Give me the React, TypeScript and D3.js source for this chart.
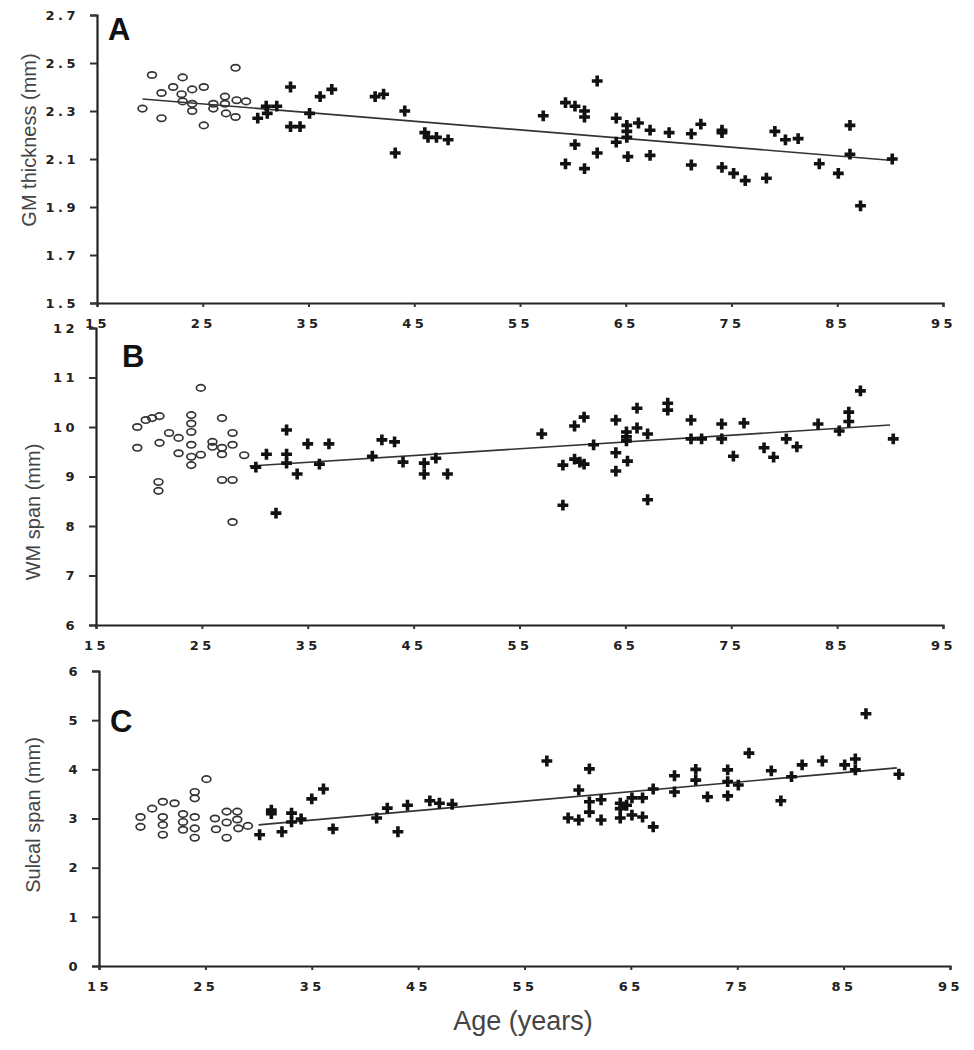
import { useEffect, useRef } from "react";
import * as d3 from "d3";

// age ticks shared by all three panels
const ageTicks = [15, 25, 35, 45, 55, 65, 75, 85, 95];

// A: GM thickness (mm)
const gmTicks = [1.5, 1.7, 1.9, 2.1, 2.3, 2.5, 2.7];
const gmYoung = [
  [19.3, 2.31], [20.2, 2.45], [21.1, 2.27], [21.1, 2.375], [22.2, 2.4], [23.1, 2.44],
  [23.0, 2.37], [23.1, 2.34], [24.0, 2.39], [24.0, 2.33], [24.0, 2.3], [25.1, 2.4],
  [25.1, 2.24], [26.0, 2.33], [26.0, 2.31], [27.1, 2.36], [27.1, 2.33], [27.2, 2.29],
  [28.1, 2.48], [28.1, 2.275], [28.2, 2.345], [29.1, 2.34],
];
const gmOld = [
  [30.2, 2.27], [31.0, 2.32], [31.1, 2.29], [32.0, 2.32], [33.3, 2.4], [33.3, 2.235],
  [34.2, 2.235], [35.1, 2.29], [36.1, 2.36], [37.2, 2.39], [41.3, 2.36], [42.1, 2.37],
  [43.2, 2.125], [44.1, 2.3], [46.0, 2.21], [46.3, 2.19], [47.1, 2.19], [48.2, 2.18],
  [57.2, 2.28], [59.3, 2.335], [59.3, 2.08], [60.2, 2.32], [60.2, 2.16], [61.1, 2.3],
  [61.1, 2.275], [61.1, 2.06], [62.3, 2.425], [62.3, 2.125], [64.1, 2.27], [64.1, 2.17],
  [65.1, 2.24], [65.1, 2.215], [65.1, 2.19], [65.2, 2.11], [66.2, 2.25], [67.3, 2.22],
  [67.3, 2.115], [69.1, 2.21], [71.2, 2.205], [71.2, 2.075], [72.1, 2.245], [74.1, 2.22],
  [74.1, 2.21], [74.1, 2.065], [75.2, 2.04], [76.3, 2.01], [78.3, 2.02], [79.1, 2.215],
  [80.1, 2.18], [81.3, 2.185], [83.3, 2.08], [85.1, 2.04], [86.2, 2.24], [86.2, 2.12],
  [87.2, 1.905], [90.2, 2.1],
];
const gmFit = [[19.3, 2.35], [90, 2.095]];

// B: WM span (mm)
const wmTicks = [6, 7, 8, 9, 10, 11, 12];
const wmYoung = [
  [18.9, 9.58], [18.9, 10.0], [19.7, 10.14], [20.3, 10.18], [21.0, 10.22], [21.0, 9.68],
  [20.9, 8.89], [20.9, 8.71], [21.9, 9.88], [22.8, 9.78], [22.8, 9.47], [24.0, 10.24],
  [24.0, 10.07], [24.0, 9.9], [24.0, 9.64], [24.0, 9.4], [24.0, 9.23], [24.9, 10.79],
  [24.9, 9.44], [26.0, 9.7], [26.0, 9.6], [26.9, 10.18], [26.9, 9.58], [26.9, 9.45],
  [26.9, 8.93], [27.9, 9.88], [27.9, 9.64], [27.9, 8.93], [27.9, 8.08], [29.0, 9.43],
];
const wmOld = [
  [30.1, 9.19], [31.1, 9.45], [32.0, 8.26], [33.0, 9.94], [33.0, 9.45], [33.0, 9.27],
  [34.0, 9.05], [35.0, 9.66], [36.1, 9.25], [37.0, 9.66], [41.1, 9.41], [42.0, 9.74],
  [43.2, 9.7], [44.0, 9.29], [46.0, 9.27], [46.0, 9.05], [47.1, 9.37], [48.2, 9.05],
  [57.1, 9.86], [59.1, 9.23], [59.1, 8.42], [60.2, 10.02], [60.2, 9.35], [60.7, 9.29],
  [61.1, 10.2], [61.1, 9.25], [62.0, 9.64], [64.1, 10.14], [64.1, 9.48], [64.1, 9.11],
  [65.1, 9.9], [65.1, 9.8], [65.1, 9.72], [65.2, 9.31], [66.1, 10.38], [66.1, 9.98],
  [67.1, 9.86], [67.1, 8.53], [69.0, 10.48], [69.0, 10.34], [71.2, 10.14], [71.2, 9.76],
  [72.2, 9.76], [74.1, 10.06], [74.1, 9.76], [75.2, 9.41], [76.2, 10.08], [78.1, 9.58],
  [79.0, 9.39], [80.2, 9.76], [81.2, 9.6], [83.2, 10.06], [85.2, 9.92], [86.1, 10.3],
  [86.1, 10.11], [87.2, 10.73], [90.3, 9.76],
];
const wmFit = [[29.5, 9.21], [90, 10.04]];

// C: Sulcal span (mm)
const scTicks = [0, 1, 2, 3, 4, 5, 6];
const scYoung = [
  [18.9, 3.03], [18.9, 2.83], [20.0, 3.2], [21.0, 3.34], [21.0, 3.03], [21.0, 2.87],
  [21.0, 2.67], [22.1, 3.31], [22.9, 3.09], [22.9, 2.93], [22.9, 2.77], [24.0, 3.54],
  [24.0, 3.41], [24.0, 3.03], [24.0, 2.8], [24.0, 2.61], [25.1, 3.8], [25.9, 3.0],
  [26.0, 2.78], [27.0, 3.14], [27.0, 2.92], [27.0, 2.61], [28.0, 3.14], [28.0, 2.98],
  [28.1, 2.8], [29.0, 2.85],
];
const scOld = [
  [30.1, 2.67], [31.2, 3.17], [31.2, 3.1], [32.2, 2.73], [33.1, 3.11], [33.1, 2.93],
  [34.0, 2.99], [35.0, 3.4], [36.1, 3.6], [37.0, 2.79], [41.1, 3.01], [42.1, 3.21],
  [43.1, 2.73], [44.0, 3.27], [46.1, 3.36], [47.0, 3.31], [48.2, 3.29],
  [57.1, 4.17], [59.1, 3.01], [60.1, 2.97], [60.1, 3.58], [61.1, 4.01], [61.1, 3.34],
  [61.1, 3.13], [62.2, 3.38], [62.2, 2.97], [64.0, 3.31], [64.0, 3.2], [64.0, 3.01],
  [64.6, 3.27], [65.1, 3.42], [65.1, 3.07], [66.1, 3.42], [66.1, 3.03], [67.1, 3.6],
  [67.1, 2.83], [69.1, 3.87], [69.1, 3.54], [71.1, 4.0], [71.1, 3.78], [72.2, 3.44],
  [74.1, 3.99], [74.1, 3.75], [74.1, 3.46], [75.1, 3.68], [76.1, 4.33], [78.2, 3.97],
  [79.1, 3.36], [80.1, 3.85], [81.1, 4.09], [83.0, 4.17], [85.1, 4.09], [86.1, 4.21],
  [86.1, 3.99], [87.1, 5.13], [90.2, 3.9],
];
const scFit = [[30, 2.87], [90, 4.03]];

const panels = [
  { letter: "A", title: "GM thickness (mm)", ticks: gmTicks, young: gmYoung, old: gmOld, fit: gmFit,
    fmt: d3.format(".1f"), x0: 97, x1: 943, yTop: 15, yBot: 303, titleX: 29, titleY: 140, letterX: 108, letterY: 40 },
  { letter: "B", title: "WM span (mm)", ticks: wmTicks, young: wmYoung, old: wmOld, fit: wmFit,
    fmt: d3.format("d"), x0: 96, x1: 943, yTop: 328, yBot: 625, titleX: 33, titleY: 512, letterX: 122, letterY: 367 },
  { letter: "C", title: "Sulcal span (mm)", ticks: scTicks, young: scYoung, old: scOld, fit: scFit,
    fmt: d3.format("d"), x0: 99, x1: 950, yTop: 671, yBot: 966, titleX: 33, titleY: 815, letterX: 110, letterY: 732 },
];

const App = () => {
  const ref = useRef<SVGSVGElement>(null);

  useEffect(() => {
    const svg = d3.select(ref.current);
    svg.selectAll("*").remove();

    const tickFont = "'DejaVu Sans', sans-serif";
    const cross = d3.symbol().type(d3.symbolCross).size(65);

    panels.forEach((p) => {
      const x = d3.scaleLinear().domain([15, 95]).range([p.x0, p.x1]);
      const y = d3.scaleLinear().domain([p.ticks[0], p.ticks[p.ticks.length - 1]]).range([p.yBot, p.yTop]);
      const g = svg.append("g");

      // y axis
      const yAxis = g.append("g")
        .attr("transform", `translate(${p.x0},0)`)
        .call(d3.axisLeft(y).tickValues(p.ticks).tickFormat(p.fmt as any).tickSize(7).tickPadding(11));
      // x axis
      const xAxis = g.append("g")
        .attr("transform", `translate(0,${p.yBot})`)
        .call(d3.axisBottom(x).tickValues(ageTicks).tickSize(4).tickPadding(12));

      [yAxis, xAxis].forEach((ax) => {
        ax.select(".domain").attr("stroke", "#222").attr("stroke-width", 2.2);
        ax.selectAll(".tick line").attr("stroke", "#333").attr("stroke-width", 2);
        ax.selectAll(".tick text")
          .attr("fill", "#222")
          .attr("font-family", tickFont)
          .attr("font-weight", "bold")
          .attr("font-size", 13)
          .attr("letter-spacing", 3.5);
      });

      // regression line
      g.append("line")
        .attr("x1", x(p.fit[0][0])).attr("y1", y(p.fit[0][1]))
        .attr("x2", x(p.fit[1][0])).attr("y2", y(p.fit[1][1]))
        .attr("stroke", "#333")
        .attr("stroke-width", 1.6);

      // young: open circles
      g.append("g")
        .selectAll("ellipse")
        .data(p.young)
        .join("ellipse")
        .attr("cx", (d) => x(d[0]))
        .attr("cy", (d) => y(d[1]))
        .attr("rx", 4.4)
        .attr("ry", 3.2)
        .attr("fill", "none")
        .attr("stroke", "#333")
        .attr("stroke-width", 1.7);

      // old: filled crosses
      g.append("g")
        .selectAll("path")
        .data(p.old)
        .join("path")
        .attr("transform", (d) => `translate(${x(d[0])},${y(d[1])})`)
        .attr("d", cross)
        .attr("fill", "#111");

      // titles
      g.append("text")
        .attr("transform", `translate(${p.titleX},${p.titleY}) rotate(-90)`)
        .attr("text-anchor", "middle")
        .attr("dominant-baseline", "central")
        .attr("font-family", "'Liberation Sans', Arial, sans-serif")
        .attr("font-size", 20)
        .attr("fill", "#444")
        .text(p.title);

      g.append("text")
        .attr("x", p.letterX)
        .attr("y", p.letterY)
        .attr("font-family", "'Liberation Sans', Arial, sans-serif")
        .attr("font-weight", "bold")
        .attr("font-size", 31)
        .attr("fill", "#111")
        .text(p.letter);
    });

    svg.append("text")
      .attr("x", 523)
      .attr("y", 1030)
      .attr("text-anchor", "middle")
      .attr("font-family", "'Liberation Sans', Arial, sans-serif")
      .attr("font-size", 27)
      .attr("fill", "#444")
      .text("Age (years)");
  }, []);

  return (
    <svg
      ref={ref}
      width={974}
      height={1050}
      style={{ position: "absolute", left: 0, top: 0, background: "#fff" }}
    />
  );
};

export default App;
